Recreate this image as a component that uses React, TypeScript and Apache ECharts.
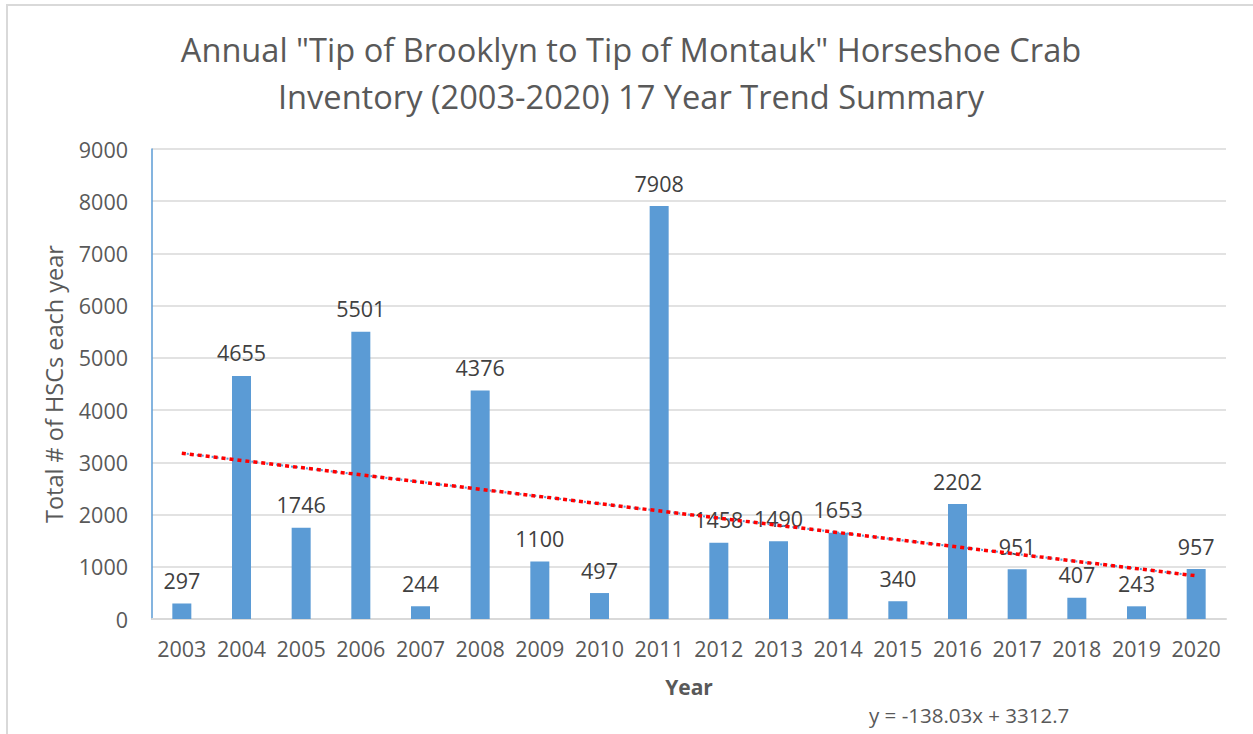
import React, { useEffect, useRef } from "react";
import * as echarts from "echarts";

const years = ["2003","2004","2005","2006","2007","2008","2009","2010","2011","2012","2013","2014","2015","2016","2017","2018","2019","2020"];
const counts = [297,4655,1746,5501,244,4376,1100,497,7908,1458,1490,1653,340,2202,951,407,243,957];
// Linear trendline endpoints (from y = -138.03x + 3312.7 shown on the chart)
const trendYears = ["2003", "2020"];
const trendValues = [3174.67, 827.16];
const yTicks = { min: 0, max: 9000, interval: 1000 };
const titleLines = ['Annual "Tip of Brooklyn to Tip of Montauk" Horseshoe Crab', "Inventory (2003-2020) 17 Year Trend Summary"];
const equation = "y = -138.03x + 3312.7";

const FONT = "'Open Sans', 'Noto Sans', sans-serif";

export default function App() {
  const ref = useRef<HTMLDivElement>(null);
  useEffect(() => {
    if (!ref.current) return;
    const chart = echarts.init(ref.current, undefined, { renderer: "svg" });
    const trendData = trendYears.map((y, i) => [y, trendValues[i]]);
    chart.setOption({
      animation: false,
      backgroundColor: "#ffffff",
      textStyle: { fontFamily: FONT },
      title: {
        text: titleLines.join("\n"),
        left: 626,
        textAlign: "center",
        top: 21,
        textStyle: { fontFamily: FONT, fontSize: 32.6, fontWeight: "normal", color: "#595959", lineHeight: 47 },
      },
      grid: { left: 152, right: 27, top: 149, bottom: 115, containLabel: false },
      xAxis: {
        type: "category",
        data: years,
        name: "Year",
        nameLocation: "middle",
        nameGap: 57,
        nameTextStyle: { fontFamily: FONT, fontSize: 21, fontWeight: "bold", color: "#595959" },
        axisLine: { show: true, lineStyle: { color: "#D9D9D9", width: 2 } },
        axisTick: { show: false },
        axisLabel: { fontFamily: FONT, fontSize: 21.5, color: "#595959", margin: 18, interval: 0 },
      },
      yAxis: {
        type: "value",
        min: yTicks.min,
        max: yTicks.max,
        interval: yTicks.interval,
        name: "Total # of HSCs each year",
        nameLocation: "middle",
        nameGap: 86,
        nameTextStyle: { fontFamily: FONT, fontSize: 23.5, color: "#595959" },
        axisLine: { show: true, lineStyle: { color: "#5B9BD5", width: 1.5 } },
        axisTick: { show: false },
        axisLabel: { fontFamily: FONT, fontSize: 21.5, color: "#595959", margin: 24, formatter: (v: number) => String(v) },
        splitLine: { lineStyle: { color: "#D9D9D9", width: 1.5 } },
      },
      series: [
        {
          type: "bar",
          data: counts,
          barWidth: 19,
          itemStyle: { color: "#5B9BD5" },
          label: { show: true, position: "top", distance: 12, fontFamily: FONT, fontSize: 21.5, color: "#404040" },
          z: 2,
        },
        {
          type: "line",
          data: trendData,
          symbol: "none",
          lineStyle: { color: "#5B9BD5", width: 2, type: [2, 3] },
          z: 3,
          silent: true,
        },
        {
          type: "line",
          data: trendData,
          symbol: "none",
          lineStyle: { color: "#FF0000", width: 3.5, type: [4, 4] },
          z: 4,
          silent: true,
        },
      ],
      graphic: [
        {
          type: "polyline",
          shape: { points: [[7, 734], [7, 5], [1253, 5]] },
          style: { stroke: "#D9D9D9", lineWidth: 2, fill: null },
          silent: true,
        },
        {
          type: "text",
          left: 869,
          top: 704,
          style: { text: equation, fontFamily: FONT, fontSize: 20.5, fill: "#595959" },
        },
      ],
    });
    return () => chart.dispose();
  }, []);
  return <div ref={ref} style={{ position: "absolute", left: 0, top: 0, width: 1253, height: 734 }} />;
}
